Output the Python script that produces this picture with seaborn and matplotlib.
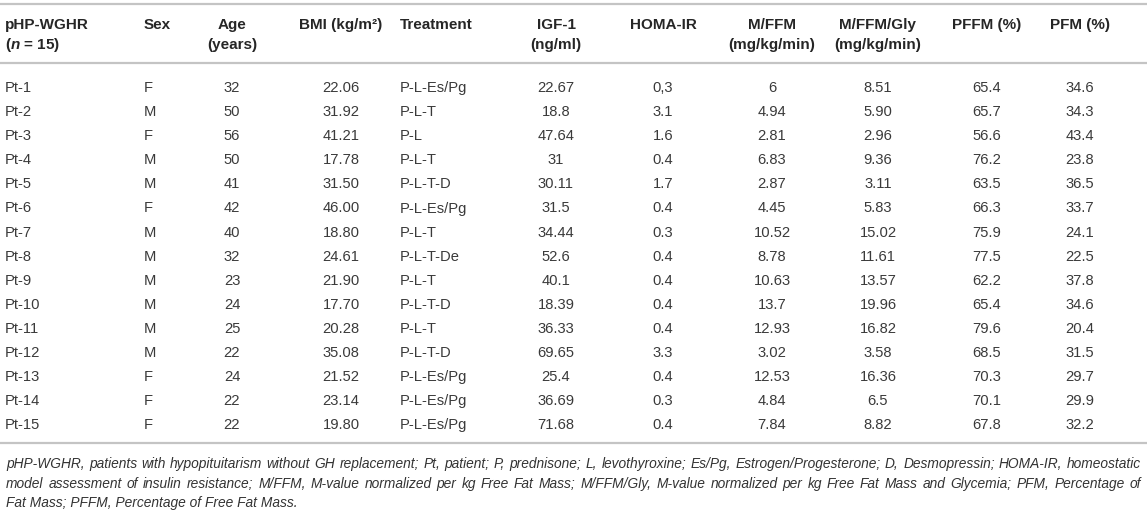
import matplotlib
matplotlib.use("Agg")
import matplotlib.pyplot as plt
import seaborn as sns

# table values, kept as text so the printed formats stay as in the source
patients = ["Pt-%d" % i for i in range(1, 16)]
sex = ["F", "M", "F", "M", "M", "F", "M", "M", "M", "M", "M", "M", "F", "F", "F"]
age = ["32", "50", "56", "50", "41", "42", "40", "32", "23", "24", "25", "22", "24", "22", "22"]
bmi = ["22.06", "31.92", "41.21", "17.78", "31.50", "46.00", "18.80", "24.61",
       "21.90", "17.70", "20.28", "35.08", "21.52", "23.14", "19.80"]
treatment = ["P-L-Es/Pg", "P-L-T", "P-L", "P-L-T", "P-L-T-D", "P-L-Es/Pg", "P-L-T",
             "P-L-T-De", "P-L-T", "P-L-T-D", "P-L-T", "P-L-T-D", "P-L-Es/Pg",
             "P-L-Es/Pg", "P-L-Es/Pg"]
igf1 = ["22.67", "18.8", "47.64", "31", "30.11", "31.5", "34.44", "52.6", "40.1",
        "18.39", "36.33", "69.65", "25.4", "36.69", "71.68"]
homa_ir = ["0,3", "3.1", "1.6", "0.4", "1.7", "0.4", "0.3", "0.4", "0.4", "0.4",
           "0.4", "3.3", "0.4", "0.3", "0.4"]
m_ffm = ["6", "4.94", "2.81", "6.83", "2.87", "4.45", "10.52", "8.78", "10.63",
         "13.7", "12.93", "3.02", "12.53", "4.84", "7.84"]
m_ffm_gly = ["8.51", "5.90", "2.96", "9.36", "3.11", "5.83", "15.02", "11.61",
             "13.57", "19.96", "16.82", "3.58", "16.36", "6.5", "8.82"]
pffm = ["65.4", "65.7", "56.6", "76.2", "63.5", "66.3", "75.9", "77.5", "62.2",
        "65.4", "79.6", "68.5", "70.3", "70.1", "67.8"]
pfm = ["34.6", "34.3", "43.4", "23.8", "36.5", "33.7", "24.1", "22.5", "37.8",
       "34.6", "20.4", "31.5", "29.7", "29.9", "32.2"]

headers = [("pHP-WGHR", "($n$ = 15)"), ("Sex", ""), ("Age", "(years)"),
           ("BMI (kg/m²)", ""), ("Treatment", ""), ("IGF-1", "(ng/ml)"),
           ("HOMA-IR", ""), ("M/FFM", "(mg/kg/min)"), ("M/FFM/Gly", "(mg/kg/min)"),
           ("PFFM (%)", ""), ("PFM (%)", "")]
columns = [patients, sex, age, bmi, treatment, igf1, homa_ir, m_ffm, m_ffm_gly, pffm, pfm]

footnote_lines = [
    "pHP-WGHR, patients with hypopituitarism without GH replacement; Pt, patient; "
    "P, prednisone; L, levothyroxine; Es/Pg, Estrogen/Progesterone; D, Desmopressin; "
    "HOMA-IR, homeostatic",
    "model assessment of insulin resistance; M/FFM, M-value normalized per kg Free Fat "
    "Mass; M/FFM/Gly, M-value normalized per kg Free Fat Mass and Glycemia; PFM, "
    "Percentage of",
    "Fat Mass; PFFM, Percentage of Free Fat Mass.",
]

# layout (pixels)
col_x = [5, 144, 232, 341, 400, 556, 663, 772, 878, 987, 1080]
col_ha = ["left", "left", "center", "center", "left", "center", "center",
          "center", "center", "center", "center"]
W, H = 1147, 512
head_y = [25, 45]
row0, row_step = 88, 24.1
txt_col = "#262626"
line_col = "#c4c4c4"

sns.set_theme(style="white")
plt.rcParams["font.family"] = ["Liberation Sans", "DejaVu Sans"]
plt.rcParams["mathtext.fontset"] = "custom"
plt.rcParams["mathtext.it"] = "Liberation Sans:italic:bold"
plt.rcParams["mathtext.rm"] = "Liberation Sans:bold"

fig = plt.figure(figsize=(W / 100, H / 100), dpi=100)
ax = fig.add_axes([0, 0, 1, 1])
ax.set_xlim(0, W)
ax.set_ylim(H, 0)
ax.axis("off")

ax.hlines([4, 63, 443], 0, W, colors=line_col, linewidth=1.6)

for (h1, h2), x, ha in zip(headers, col_x, col_ha):
    for txt, y in zip((h1, h2), head_y):
        if txt:
            ax.text(x, y, txt, ha=ha, va="center", fontsize=11,
                    fontweight="bold", color=txt_col)

for values, x, ha in zip(columns, col_x, col_ha):
    for i, v in enumerate(values):
        ax.text(x, row0 + i * row_step, v, ha=ha, va="center", fontsize=10.6,
                color="#3a3a3a")

# footnote: justified italic paragraph, line breaks as in the source
fig.canvas.draw()
renderer = fig.canvas.get_renderer()
fn_family = ["Liberation Sans Narrow", "Liberation Sans"]
left, right = 6, 1141
fn_y = [464, 484, 503]


def width_of(s, size):
    t = ax.text(0, 0, s, fontsize=size, style="italic", family=fn_family)
    bb = t.get_window_extent(renderer)
    t.remove()
    return bb.width


# pick the size that lets the first line fill the width with normal spaces
fn_size = 10.0 * (right - left) / width_of(footnote_lines[0], 10.0)

for li, (line, y) in enumerate(zip(footnote_lines, fn_y)):
    if li == len(footnote_lines) - 1:
        ax.text(left, y, line, fontsize=fn_size, style="italic", family=fn_family,
                ha="left", va="center", color="#333333")
        continue
    lw = line.split(" ")
    widths = [width_of(w, fn_size) for w in lw]
    gap = (right - left - sum(widths)) / (len(lw) - 1)
    x = left
    for w, wd in zip(lw, widths):
        ax.text(x, y, w, fontsize=fn_size, style="italic", family=fn_family,
                ha="left", va="center", color="#333333")
        x += wd + gap

fig.savefig("out.png", dpi=100)
